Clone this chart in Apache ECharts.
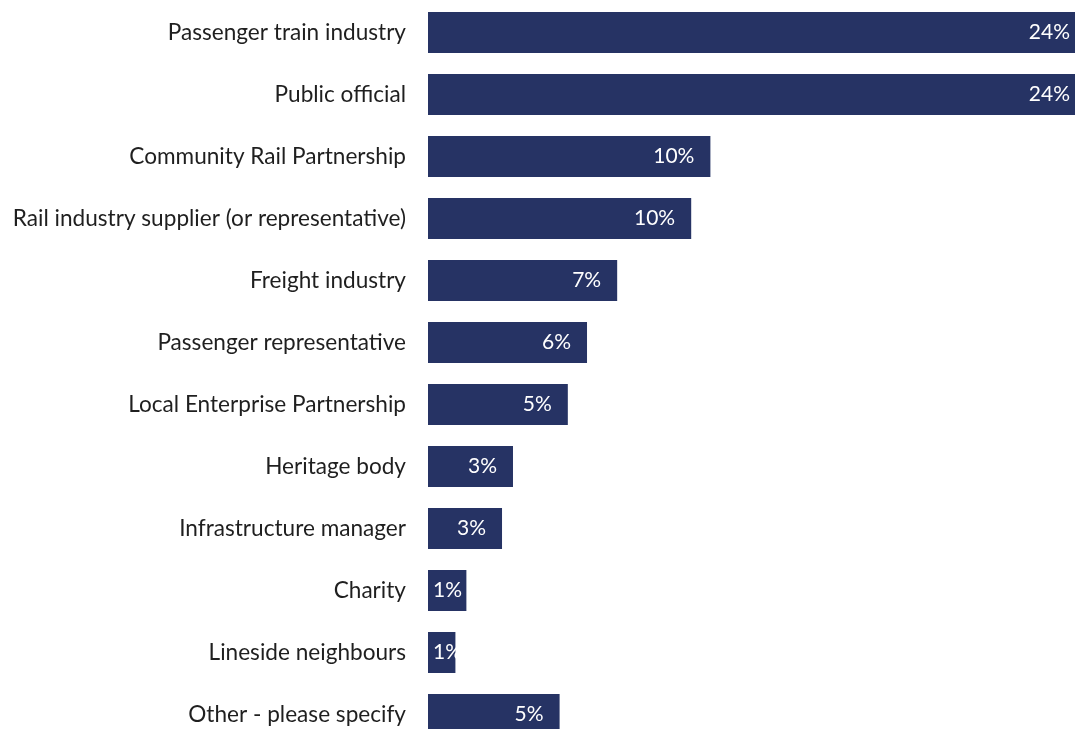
<!DOCTYPE html>
<html>
<head>
<meta charset="utf-8">
<script src="https://cdn.jsdelivr.net/npm/echarts@6/dist/echarts.min.js"></script>
<style>
  html, body { margin: 0; padding: 0; background: #ffffff; overflow: hidden; }
  /* drawing surface runs past the right and bottom edges of the page */
  #chart { width: 1100px; height: 760px; }
</style>
</head>
<body>
<div id="chart"></div>
<script>
// Respondent type, share of responses (%)
const categories = [
  'Passenger train industry',
  'Public official',
  'Community Rail Partnership',
  'Rail industry supplier (or representative)',
  'Freight industry',
  'Passenger representative',
  'Local Enterprise Partnership',
  'Heritage body',
  'Infrastructure manager',
  'Charity',
  'Lineside neighbours',
  'Other - please specify'
];
const shares = [24.0, 24.0, 10.3, 9.6, 6.9, 5.8, 5.1, 3.1, 2.7, 1.4, 1.0, 4.8];

const chart = echarts.init(document.getElementById('chart'), null, { renderer: 'canvas' });

const FONT = 'Lato, "Open Sans", sans-serif';

chart.setOption({
  animation: false,
  grid: { left: 428, top: 1.5, width: 658, height: 744, containLabel: false },
  xAxis: {
    type: 'value',
    min: 0,
    max: 24,
    show: false
  },
  yAxis: {
    type: 'category',
    data: categories,
    inverse: true,
    axisLine: { show: false },
    axisTick: { show: false },
    splitLine: { show: false },
    axisLabel: {
      margin: 22,
      color: '#1f1f1f',
      fontFamily: FONT,
      fontSize: 22.6
    }
  },
  series: [{
    type: 'bar',
    data: shares,
    barWidth: 41,
    itemStyle: { color: '#263364' },
    label: {
      show: true,
      position: 'insideRight',
      distance: 16,
      color: '#ffffff',
      fontFamily: FONT,
      fontSize: 21,
      formatter: p => Math.round(p.value) + '%'
    },
    // keep short-bar labels from starting left of the bar
    labelLayout: function (p) {
      const minX = p.rect.x + 5;
      const dx = p.labelRect.x < minX ? minX - p.labelRect.x : 0;
      return { dx: dx };
    }
  }]
});
</script>
</body>
</html>
